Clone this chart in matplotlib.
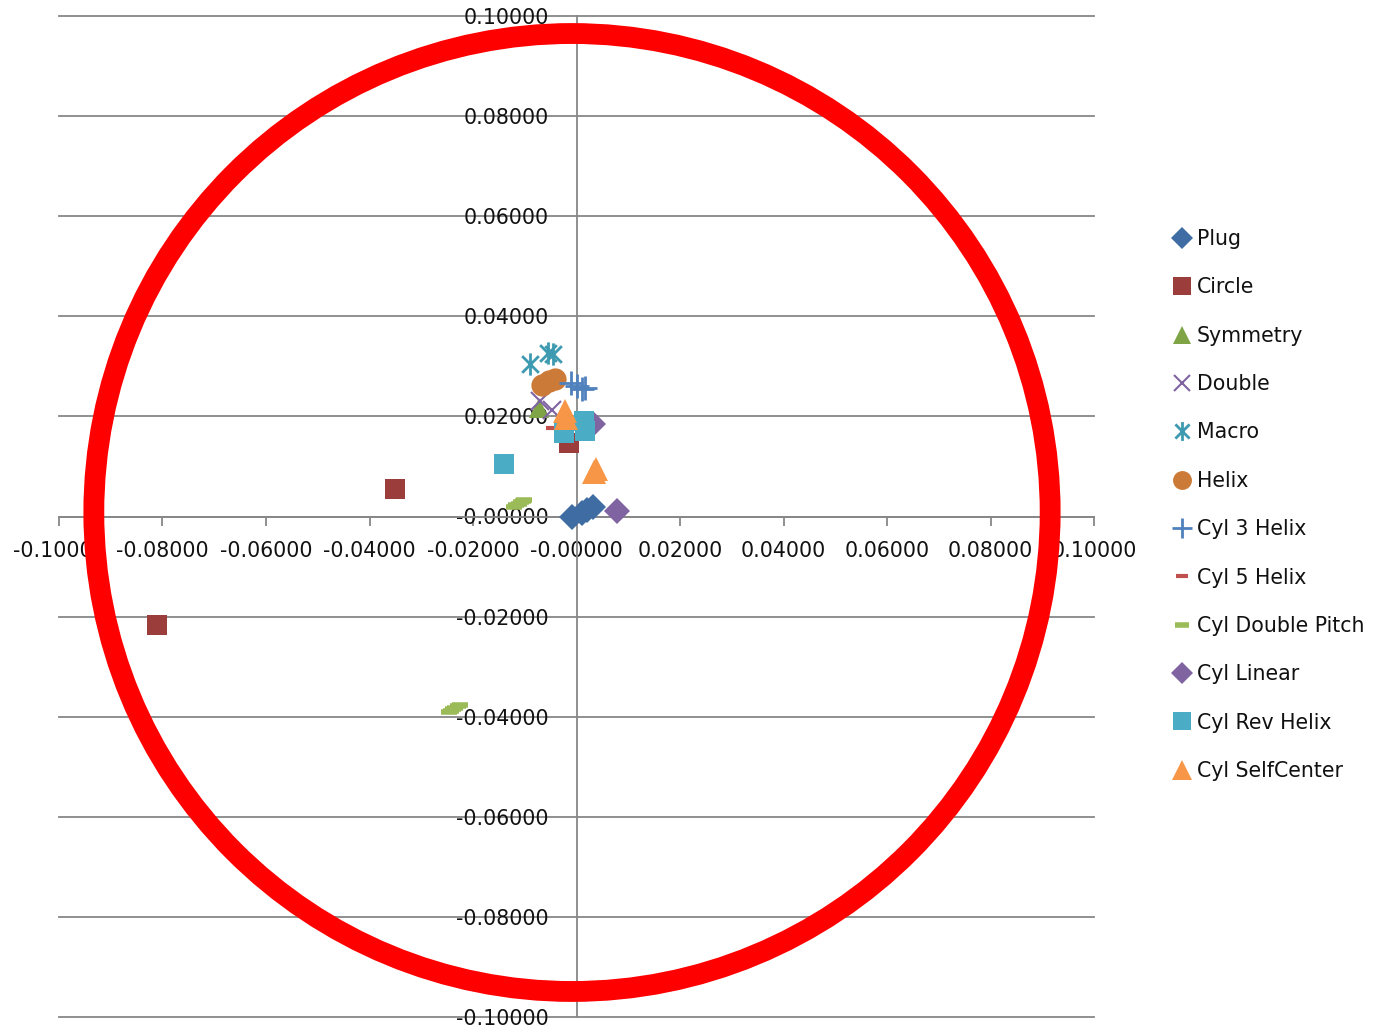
import matplotlib
matplotlib.use("Agg")
import matplotlib.pyplot as plt
from matplotlib.patches import Ellipse
from matplotlib.path import Path
from matplotlib.ticker import FuncFormatter, MultipleLocator

plt.rcParams["font.family"] = "DejaVu Sans"
plt.rcParams["axes.unicode_minus"] = False

# _______________________________________________________________________________
# values

names = ["Plug", "Circle", "Symmetry", "Double", "Macro", "Helix",
         "Cyl 3 Helix", "Cyl 5 Helix", "Cyl Double Pitch", "Cyl Linear",
         "Cyl Rev Helix", "Cyl SelfCenter"]

plug_x = [-0.0008, 0.0010, 0.0021, 0.0031]
plug_y = [0.0000, 0.0006, 0.0012, 0.0018]

circle_x = [-0.0351, -0.0810, -0.0014]
circle_y = [0.0055, -0.0216, 0.0146]

symmetry_x = [-0.0073]
symmetry_y = [0.0216]

double_x = [-0.0071, -0.0048]
double_y = [0.0230, 0.0212]

macro_x = [-0.0089, -0.0056, -0.0046]
macro_y = [0.0305, 0.0327, 0.0325]

helix_x = [-0.0066, -0.0054, -0.0041]
helix_y = [0.0263, 0.0271, 0.0275]

cyl3_x = [-0.0010, 0.0000, 0.0010, 0.0017]
cyl3_y = [0.0267, 0.0260, 0.0255, 0.0257]

cyl5_x = [-0.0046]
cyl5_y = [0.0176]

dpitch_x = [-0.0120, -0.0116, -0.0112, -0.0108, -0.0104, -0.0101,
            -0.0246, -0.0242, -0.0238, -0.0234, -0.0229, -0.0225]
dpitch_y = [0.0019, 0.0022, 0.0025, 0.0028, 0.0031, 0.0033,
            -0.0391, -0.0388, -0.0385, -0.0382, -0.0379, -0.0377]

linear_x = [0.0079, 0.0031]
linear_y = [0.0010, 0.0184]

revhelix_x = [-0.0141, -0.0025, 0.0014, 0.0017]
revhelix_y = [0.0104, 0.0166, 0.0190, 0.0170]

selfcenter_x = [-0.0023, -0.0021, 0.0033, 0.0037]
selfcenter_y = [0.0210, 0.0196, 0.0088, 0.0094]

xs = [plug_x, circle_x, symmetry_x, double_x, macro_x, helix_x,
      cyl3_x, cyl5_x, dpitch_x, linear_x, revhelix_x, selfcenter_x]
ys = [plug_y, circle_y, symmetry_y, double_y, macro_y, helix_y,
      cyl3_y, cyl5_y, dpitch_y, linear_y, revhelix_y, selfcenter_y]

# excel style asterisk: an x with a vertical bar through it
asterisk = Path(
    [(0, -1), (0, 1), (-0.75, -0.75), (0.75, 0.75), (-0.75, 0.75), (0.75, -0.75)],
    [Path.MOVETO, Path.LINETO, Path.MOVETO, Path.LINETO, Path.MOVETO, Path.LINETO],
)

styles = [
    dict(marker="D", color="#3F6CA3", ms=13, mew=0),
    dict(marker="s", color="#9B3D3B", ms=15, mew=0),
    dict(marker="^", color="#7EA446", ms=15, mew=0),
    dict(marker="x", color="#8064A2", ms=13, mew=1.5),
    dict(marker=asterisk, color="#3D9AB0", ms=16, mew=2),
    dict(marker="o", color="#CC7A37", ms=16, mew=0),
    dict(marker="+", color="#4F81BD", ms=17, mew=2),
    dict(marker="_", color="#C0504D", ms=10, mew=3),
    dict(marker="_", color="#9BBB59", ms=12, mew=4),
    dict(marker="D", color="#8064A2", ms=13, mew=0),
    dict(marker="s", color="#4BACC6", ms=15, mew=0),
    dict(marker="^", color="#F79646", ms=17, mew=0),
]

# _______________________________________________________________________________
""" plot """

grey = "#878787"
fig = plt.figure(figsize=(13.83, 10.27), dpi=100)
ax = fig.add_axes([59 / 1383, 10 / 1027, 1035 / 1383, 1001 / 1027])

handles = []
for name, x, y, st in zip(names, xs, ys, styles):
    (h,) = ax.plot(x, y, linestyle="none", marker=st["marker"], markersize=st["ms"],
                   markerfacecolor=st["color"], markeredgecolor=st["color"],
                   markeredgewidth=st["mew"], label=name, zorder=3)
    handles.append(h)

ax.set_xlim(-0.1, 0.1)
ax.set_ylim(-0.1, 0.1)
ax.xaxis.set_major_locator(MultipleLocator(0.02))
ax.yaxis.set_major_locator(MultipleLocator(0.02))
fmt = FuncFormatter(lambda v, pos: "{:.5f}".format(v))
ax.xaxis.set_major_formatter(fmt)
ax.yaxis.set_major_formatter(fmt)

for side in ["top", "right"]:
    ax.spines[side].set_visible(False)
for side in ["left", "bottom"]:
    ax.spines[side].set_position(("data", 0))
    ax.spines[side].set_color(grey)
    ax.spines[side].set_linewidth(1.3)

ax.tick_params(axis="x", direction="out", length=6.5, width=1.3, color=grey,
               pad=11, labelsize=14.8, labelcolor="#111111")
ax.tick_params(axis="y", length=0, pad=20, labelsize=14.8, labelcolor="#111111")

ax.grid(axis="y", color=grey, linewidth=1.3)
ax.set_axisbelow(True)
for gl in ax.get_ygridlines():
    gl.set_clip_on(False)

# the red ring drawn over the chart
ring = Ellipse((-0.00087, 0.0008), 2 * 0.0924, 2 * 0.0957, fill=False,
               edgecolor="#FF0000", linewidth=15, zorder=5)
ax.add_patch(ring)

leg = ax.legend(handles=handles, loc="upper left",
                bbox_to_anchor=(1174 / 1383, (1027 - 229) / 1027),
                bbox_transform=fig.transFigure, frameon=False, fontsize=14.8,
                numpoints=1, markerscale=0.85, handlelength=0.8,
                handletextpad=0.3, labelspacing=1.38, borderpad=0,
                borderaxespad=0)
for t in leg.get_texts():
    t.set_color("#111111")

fig.savefig("out.png", dpi=100)
